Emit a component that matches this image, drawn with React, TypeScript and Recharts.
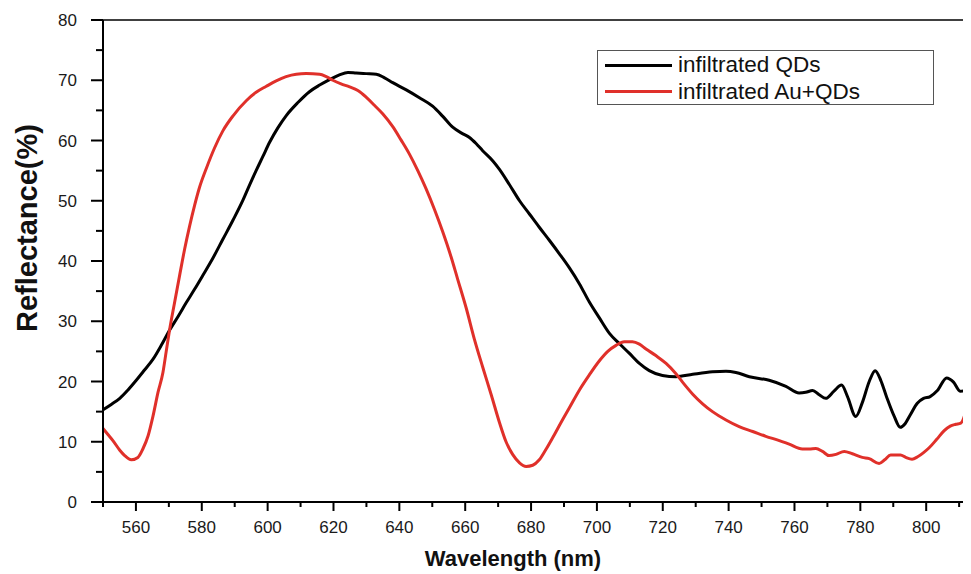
import React from "react";
import { LineChart, Line, XAxis, YAxis, Legend, Label, ReferenceLine } from "recharts";

const qdWavelength = [
  550, 552.5, 555.1, 557.6, 560.1, 562.6, 565.2, 567.7, 570.2, 572.8, 575.3, 577.8, 580.3, 583.4, 586.4, 589.5, 592.5, 594.5, 596.5, 598.6,
  600.6, 603.1, 605.6, 609.2, 612.7, 615.8, 618.8, 621.8, 624.4, 626.9, 629.9, 633.0, 635.5, 638.0, 642.1, 646.1, 650.1, 653.2, 656.2, 659.3,
  661.3, 663.3, 665.3, 668.4, 670.4, 673.4, 676.5, 679.5, 682.5, 685.6, 688.6, 691.6, 694.7, 697.7, 700.7, 703.8, 706.8, 709.8, 712.9, 715.9,
  719.9, 724.0, 729.1, 735.1, 739.2, 742.2, 746.3, 752.3, 757.4, 761.4, 763.4, 765.5, 767.5, 769.5, 772.0, 774.3, 776.1, 778.6, 780.6, 782.7,
  784.5, 786.2, 788.0, 790.3, 792.1, 793.6, 795.1, 797.3, 799.2, 801.2, 803.4, 806.2, 808.3, 810.3, 812.0, 813.0,
];
const qdReflectance = [
  15.3, 16.2, 17.2, 18.6, 20.2, 21.9, 23.7, 26.0, 28.5, 30.8, 33.1, 35.3, 37.6, 40.5, 43.6, 46.8, 50.1, 52.6, 55.0, 57.4,
  59.7, 62.1, 64.1, 66.3, 68.1, 69.2, 70.1, 70.9, 71.3, 71.2, 71.1, 71.0, 70.4, 69.6, 68.4, 67.1, 65.7, 64.0, 62.2, 61.1,
  60.5, 59.5, 58.3, 56.6, 55.2, 52.7, 50.0, 47.8, 45.6, 43.4, 41.2, 38.9, 36.2, 33.2, 30.6, 28.0, 26.3, 24.7, 23.0, 21.8,
  21.0, 20.8, 21.2, 21.6, 21.7, 21.5, 20.8, 20.2, 19.2, 18.1, 18.2, 18.5, 17.8, 17.2, 18.4, 19.4, 17.5, 14.2, 16.5, 20.0,
  21.8, 20.2, 17.4, 14.2, 12.4, 13.0, 14.4, 16.4, 17.2, 17.5, 18.5, 20.6, 19.9, 18.4, 18.5, 18.9,
];

const auWavelength = [
  550, 551.5, 553.0, 555.1, 556.6, 558.6, 560.6, 562.1, 563.7, 565.2, 566.7, 568.2, 569.2, 570.2, 571.7, 573.3, 574.8, 576.3, 577.8, 579.3,
  581.4, 583.9, 586.4, 589.5, 593.5, 596.5, 599.6, 602.6, 605.6, 608.7, 611.7, 615.8, 617.8, 619.8, 622.3, 624.9, 627.4, 629.9, 632.5, 635.0,
  638.0, 640.5, 643.1, 645.6, 648.1, 650.7, 653.2, 655.7, 657.7, 660.3, 662.8, 665.3, 667.9, 670.4, 672.4, 674.4, 676.5, 678.5, 680.5, 682.5,
  684.5, 686.6, 689.1, 691.6, 694.7, 697.7, 700.7, 703.3, 705.8, 708.3, 710.8, 712.9, 714.9, 717.9, 721.0, 724.0, 726.0, 729.1, 732.1, 735.1,
  739.2, 743.2, 747.3, 751.3, 755.4, 758.4, 762.4, 764.5, 766.5, 768.5, 770.5, 772.6, 775.1, 777.6, 780.6, 782.7, 785.7, 787.4, 789.2, 792.2,
  793.8, 795.7, 797.4, 799.2, 800.9, 803.2, 805.4, 807.3, 809.0, 810.5, 812.0, 813.0,
];
const auReflectance = [
  12.2, 11.2, 10.2, 8.6, 7.7, 7.0, 7.4, 8.8, 11.0, 14.3, 18.2, 21.5, 25.0, 28.5, 33.0, 37.7, 42.0, 45.8, 49.2, 52.2,
  55.4, 58.8, 61.6, 64.1, 66.6, 68.0, 69.0, 69.9, 70.6, 71.0, 71.1, 71.0, 70.6, 70.0, 69.4, 68.9, 68.3, 67.2, 65.8, 64.4,
  62.3, 60.1, 57.7, 55.0, 52.0, 48.5, 44.8, 40.7, 37.0, 32.2, 27.0, 22.4, 17.8, 13.2, 10.0, 7.9, 6.5, 5.9, 6.1, 7.0,
  8.7, 10.7, 13.2, 15.6, 18.6, 21.1, 23.4, 25.0, 26.0, 26.6, 26.6, 26.2, 25.4, 24.3, 23.0, 21.3, 19.9, 17.9, 16.3, 15.0,
  13.6, 12.5, 11.7, 10.9, 10.2, 9.6, 8.8, 8.8, 8.9, 8.4, 7.7, 7.9, 8.4, 8.0, 7.4, 7.2, 6.4, 7.0, 7.8, 7.8,
  7.4, 7.1, 7.5, 8.2, 9.0, 10.4, 11.8, 12.6, 12.9, 13.1, 15.0, 17.4,
];

const xTicks = [550, 560, 570, 580, 590, 600, 610, 620, 630, 640, 650, 660, 670, 680, 690, 700, 710, 720, 730, 740, 750, 760, 770, 780, 790, 800, 810];
const xLabelled = [560, 580, 600, 620, 640, 660, 680, 700, 720, 740, 760, 780, 800];
const yTicks = [0, 5, 10, 15, 20, 25, 30, 35, 40, 45, 50, 55, 60, 65, 70, 75, 80];
const yLabelled = [0, 10, 20, 30, 40, 50, 60, 70, 80];
const xDomain = [550, 813];
const yDomain = [0, 80];

const xTitle = "Wavelength (nm)";
const yTitle = "Reflectance(%)";
const seriesNames = ["infiltrated QDs", "infiltrated Au+QDs"];
const seriesColors = ["#000000", "#e0302a"];

const qdData = qdWavelength.map((w, i) => ({ w, r: qdReflectance[i] }));
const auData = auWavelength.map((w, i) => ({ w, r: auReflectance[i] }));

const FONT = "'Liberation Sans', Arial, Helvetica, sans-serif";

const XTick = (props: any) => {
  const { x, y, payload } = props;
  const v = payload.value;
  const major = xLabelled.includes(v);
  return (
    <g>
      <line x1={x} x2={x} y1={y} y2={y + (major ? 9 : 5)} stroke="#000" strokeWidth={2} />
      {major && (
        <text x={x} y={y + 31} textAnchor="middle" fontSize={17} fontFamily={FONT} fill="#1a1a1a">
          {v}
        </text>
      )}
    </g>
  );
};

const YTick = (props: any) => {
  const { x, y, payload } = props;
  const v = payload.value;
  const major = yLabelled.includes(v);
  return (
    <g>
      <line x1={x} x2={x - (major ? 12 : 7)} y1={y} y2={y} stroke="#000" strokeWidth={2} />
      {major && (
        <text x={x - 26} y={y + 6} textAnchor="end" fontSize={17} fontFamily={FONT} fill="#1a1a1a">
          {v}
        </text>
      )}
    </g>
  );
};

const XTitle = (props: any) => {
  const vb = props.viewBox || {};
  const left = vb.x ?? 95;
  const top = vb.y ?? 494;
  return (
    <text x={left + 410} y={top + 64} textAnchor="middle" fontSize={22} fontWeight="bold" fontFamily={FONT} fill="#111">
      {xTitle}
    </text>
  );
};

const YTitle = (props: any) => {
  const vb = props.viewBox || {};
  const top = vb.y ?? 12;
  const cy = top + 208;
  const bx = 29;
  return (
    <text
      x={bx}
      y={cy}
      transform={`rotate(-90, ${bx}, ${cy})`}
      textAnchor="middle"
      fontSize={29}
      fontWeight="bold"
      fontFamily={FONT}
      fill="#111"
    >
      {yTitle}
    </text>
  );
};

const LegendBox = () => (
  <div
    style={{
      border: "1px solid #555",
      background: "#fff",
      width: 337,
      height: 55,
      boxSizing: "border-box",
      paddingTop: 1,
      fontFamily: FONT,
    }}
  >
    {seriesNames.map((n, i) => (
      <div key={n} style={{ display: "flex", alignItems: "center", height: 26.5 }}>
        <div style={{ width: 67, height: 3, background: seriesColors[i], marginLeft: 7, marginRight: 6 }} />
        <span style={{ fontSize: 22.5, color: "#111", lineHeight: "26px" }}>{n}</span>
      </div>
    ))}
  </div>
);

export default function App() {
  return (
    <div style={{ width: 963, height: 566 }}>
      <LineChart width={963} height={566} margin={{ top: 12, right: 2, bottom: 0, left: 0 }}>
        <XAxis
          xAxisId="main"
          dataKey="w"
          type="number"
          domain={xDomain}
          allowDataOverflow
          ticks={xTicks}
          interval={0}
          tickSize={0}
          tickMargin={0}
          tickLine={false}
          tick={<XTick />}
          height={72}
          axisLine={{ stroke: "#000", strokeWidth: 2 }}
        >
          <Label content={<XTitle />} />
        </XAxis>
        <YAxis
          yAxisId="main"
          type="number"
          domain={yDomain}
          allowDataOverflow
          ticks={yTicks}
          interval={0}
          tickSize={0}
          tickMargin={0}
          tickLine={false}
          tick={<YTick />}
          width={95}
          axisLine={{ stroke: "#000", strokeWidth: 2 }}
        >
          <Label content={<YTitle />} />
        </YAxis>
        <ReferenceLine xAxisId="main" yAxisId="main" y={yDomain[1]} stroke="#000" strokeWidth={1.5} />
        <ReferenceLine xAxisId="main" yAxisId="main" x={xDomain[1]} stroke="#000" strokeWidth={1.5} />
        <Legend
          layout="vertical"
          verticalAlign="middle"
          align="center"
          wrapperStyle={{ top: 42, left: 589, width: 337 }}
          content={<LegendBox />}
        />
        <Line
          xAxisId="main"
          yAxisId="main"
          data={qdData}
          dataKey="r"
          name={seriesNames[0]}
          type="monotone"
          stroke={seriesColors[0]}
          strokeWidth={3}
          dot={false}
          isAnimationActive={false}
        />
        <Line
          xAxisId="main"
          yAxisId="main"
          data={auData}
          dataKey="r"
          name={seriesNames[1]}
          type="monotone"
          stroke={seriesColors[1]}
          strokeWidth={3}
          dot={false}
          isAnimationActive={false}
        />
      </LineChart>
    </div>
  );
}
